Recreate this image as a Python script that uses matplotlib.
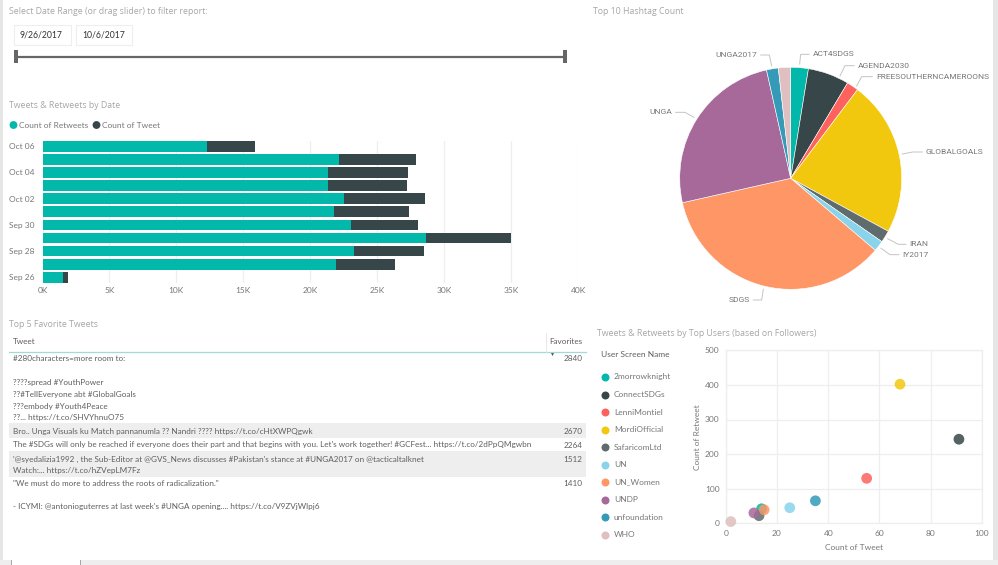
import numpy as np
import matplotlib
matplotlib.use("Agg")
import matplotlib.pyplot as plt
from matplotlib.patches import Rectangle

W, H = 998, 565

# bar chart data (k)
dates = ["Sep 26", "Sep 27", "Sep 28", "Sep 29", "Sep 30", "Oct 01",
         "Oct 02", "Oct 03", "Oct 04", "Oct 05", "Oct 06"]
retweets = [1.5, 21.9, 23.3, 28.64, 23.07, 21.77, 22.5, 21.35, 21.35, 22.17, 12.26]
tweets = [0.44, 4.4, 5.2, 6.36, 5.0, 5.6, 6.05, 5.91, 5.94, 5.76, 3.61]

# pie data (percent)
hashtags = ["ACT4SDGS", "AGENDA2030", "FREESOUTHERNCAMEROONS", "GLOBALGOALS", "IRAN",
            "IY2017", "SDGS", "UNGA", "UNGA2017", "WHO"]
hashtag_share = [2.56, 6.0, 1.72, 22.64, 1.75, 1.56, 35.25, 25.03, 1.72, 1.78]

# scatter data
users = ["2morrowknight", "ConnectSDGs", "LenniMontiel", "MordiOfficial", "SafaricomLtd",
         "UN", "UN_Women", "UNDP", "unfoundation", "WHO"]
user_tweets = [14, 91, 55, 68, 13, 25, 15, 11, 35, 2]
user_retweets = [42, 243, 130, 402, 22, 45, 39, 30, 65, 5]

# table
table_rows = [
    ("#280characters=more room to:", 358.7, "2840"),
    ("????spread #YouthPower", 382.7, None),
    ("??#TellEveryone abt #GlobalGoals", 394.3, None),
    ("???embody #Youth4Peace", 406, None),
    ("??... https://t.co/SHVYhnuO75", 417.3, None),
    ("Bro.. Unga Visuals ku Match pannanumla ?? Nandri ???? https://t.co/cHtXWPQgwk", 431.7, "2670"),
    ("The #SDGs will only be reached if everyone does their part and that begins with you. "
     "Let's work together! #GCFest... https://t.co/2dPpQMgwbn", 445, "2264"),
    ("'@syedalizia1992 , the Sub-Editor at @GVS_News discusses #Pakistan's stance at #UNGA2017 "
     "on @tacticaltalknet", 459, "1512"),
    ("Watch:... https://t.co/hZVepLM7Fz", 470.7, None),
    ("\"We must do more to address the roots of radicalization.\"", 484, "1410"),
    ("- ICYMI: @antonioguterres at last week's #UNGA opening.... https://t.co/V9ZVjWlpj6", 507, None),
]

colors = ["#01B8AA", "#374649", "#FD625E", "#F2C80F", "#5F6B6D",
          "#8AD4EB", "#FE9666", "#A66999", "#3599B8", "#DFBFBF"]

plt.rcParams["font.family"] = ["Lato", "DejaVu Sans"]
TITLE = "#a6a6a6"
LABEL = "#777777"
BODY = "#5f5f5f"
GRID = "#eeeeee"
SIZE = 6.0

fig = plt.figure(figsize=(W / 100, H / 100), dpi=100, facecolor="white")


def px_axes(x0, y0, x1, y1, **kw):
    """ Axes from pixel box, y measured from the top. """
    return fig.add_axes([x0 / W, 1 - y1 / H, (x1 - x0) / W, (y1 - y0) / H], **kw)


page = px_axes(0, 0, W, H)
page.set_xlim(0, W)
page.set_ylim(H, 0)
page.axis("off")


def box(x0, y0, x1, y1, fc, ec="none", lw=0):
    page.add_patch(Rectangle((x0, y0), x1 - x0, y1 - y0, fc=fc, ec=ec, lw=lw))


def txt(x, y, s, size=SIZE, color=BODY, ha="left", **kw):
    page.text(x, y, s, fontsize=size, color=color, ha=ha, va="center", **kw)


def title(x, y, s):
    txt(x, y, s, size=6.3, color=TITLE, family="Open Sans")


# app chrome
box(0, 0, 3.5, H, "#e6e6e6")
box(993, 0, W, H, "#e6e6e6")
box(0, 560, W, H, "#eeeeee")
box(11, 560, 80, H, "white")
page.plot([11, 11], [560, H], color="#999999", lw=0.6)
page.plot([80, 80], [560, H], color="#999999", lw=0.6)

# slicer
title(9, 11.5, "Select Date Range (or drag slider) to filter report:")
box(14.5, 25, 71.5, 44.5, "white", "#eeeeee", 0.8)
box(76.5, 25, 132.5, 44.5, "white", "#eeeeee", 0.8)
txt(20, 35, "9/26/2017", size=6.2, color="#333333")
txt(82, 35, "10/6/2017", size=6.2, color="#333333")
page.plot([16, 565], [56.5, 56.5], color="#666666", lw=1.6)
box(14.5, 50, 18, 63, "#666666")
box(563.5, 50, 567, 63, "#666666")

# bars
title(9.5, 105, "Tweets & Retweets by Date")
page.scatter([13.5, 96.5], [125, 125], s=32, c=colors[:2], lw=0)
txt(19, 125, "Count of Retweets", color=LABEL)
txt(102, 125, "Count of Tweet", color=LABEL)

ax = px_axes(42.5, 141, 578, 283)
ax.patch.set_alpha(0)
pos = np.arange(len(dates))
ax.barh(pos, retweets, height=0.82, color=colors[0], zorder=3)
ax.barh(pos, tweets, left=retweets, height=0.82, color=colors[1], zorder=3)
ax.set_xlim(0, 40)
ax.set_ylim(-0.435, 10.4)
ax.set_xticks(range(0, 41, 5))
ax.set_xticklabels(["%dK" % v for v in range(0, 41, 5)], fontsize=SIZE, color=LABEL)
ax.set_yticks(pos[::2])
ax.set_yticklabels(dates[::2], fontsize=SIZE, color=LABEL)
ax.tick_params(axis="x", length=0, pad=3)
ax.tick_params(axis="y", length=0, pad=5.5)
ax.grid(axis="x", color=GRID, lw=0.9, zorder=0)
for s in ax.spines.values():
    s.set_visible(False)

# table
title(9, 324.5, "Top 5 Favorite Tweets")
txt(13, 341, "Tweet", size=5.9)
txt(549.5, 341, "Favorites", size=5.9)
page.plot([9, 586], [351.5, 351.5], color="#9fdcd6", lw=0.9)
page.plot([546.5, 546.5], [333, 352], color="#e4e4e4", lw=0.6)
page.scatter([552], [353.5], marker="v", s=5, c="#555555", lw=0)
box(9, 423, 586, 437.7, "#eeeeee")
box(9, 450.7, 586, 476.7, "#eeeeee")
for tweet, y, fav in table_rows:
    txt(13, y, tweet, size=5.9)
    if fav:
        txt(582.5, y, fav, size=5.9, ha="right")

# pie
title(593, 11.5, "Top 10 Hashtag Count")
cx, cy, r = 790.7, 178.3, 111
pie_ax = px_axes(cx - r, cy - r, cx + r, cy + r)
pie_ax.pie(hashtag_share, colors=colors, startangle=90, counterclock=False, radius=1,
           wedgeprops={"edgecolor": "white", "linewidth": 0.4})
pie_ax.set_xlim(-1, 1)
pie_ax.set_ylim(-1, 1)

leaders = [
    ((629, 192), (632, 163), (657, 163)),
    ((750, 228), (765, 197), (792, 197)),
    ((800, 258), (815, 230), (847, 230)),
    ((937, 462), (968, 456), (997, 456)),
    ((893, 716), (925, 733), (948, 733)),
    ((873, 745), (900, 764), (927, 764)),
    ((520, 868), (515, 900), (490, 900)),
    ((312, 352), (285, 337), (257, 337)),
    ((545, 198), (538, 165), (512, 165)),
]
for name, pts in zip(hashtags, leaders):
    xs = [590 + p[0] / 3 for p in pts]
    ys = [p[1] / 3 for p in pts]
    page.plot(xs, ys, color="#c4c4c4", lw=0.7)
    left = xs[-1] < xs[0]
    txt(xs[-1] + (-3.5 if left else 3.5), ys[-1], name, size=6.0, color=LABEL,
        ha="right" if left else "left", family="Roboto")

# scatter
title(597, 334, "Tweets & Retweets by Top Users (based on Followers)")
txt(601.5, 354.5, "User Screen Name")
for i, (name, c) in enumerate(zip(users, colors)):
    y = 377 + i * 17.52
    page.scatter([605.5], [y], s=33, color=c, lw=0)
    txt(614, y, name, color=LABEL)

sc = px_axes(725.7, 350.3, 982, 523.3)
sc.patch.set_alpha(0)
sc.scatter(user_tweets, user_retweets, s=60, c=colors, alpha=0.85, lw=0, zorder=3, clip_on=False)
sc.set_xlim(0, 100)
sc.set_ylim(0, 500)
sc.set_xticks(range(0, 101, 20))
sc.set_yticks(range(0, 501, 100))
sc.tick_params(length=0, labelsize=SIZE, labelcolor=LABEL, pad=4.5)
sc.grid(color=GRID, lw=0.9, zorder=0)
for s in sc.spines.values():
    s.set_color(GRID)
    s.set_linewidth(0.9)
txt(854, 548, "Count of Tweet", color=LABEL, ha="center")
txt(698, 437, "Count of Retweet", color=LABEL, ha="center", rotation=90)

fig.savefig("out.png", dpi=100)
